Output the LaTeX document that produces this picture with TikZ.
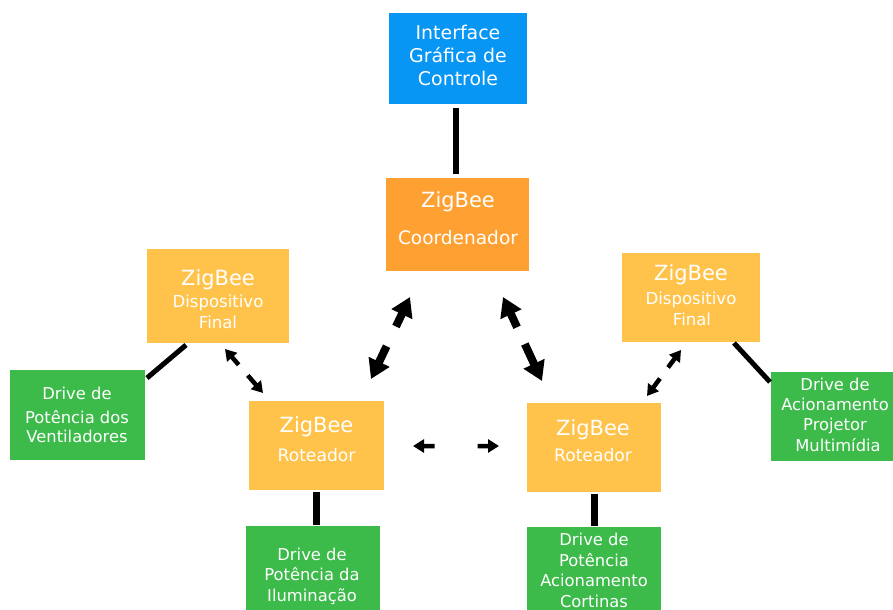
\documentclass[tikz,border=0pt]{standalone}
\usepackage{fontspec}
\setmainfont{DejaVu Sans}
\usetikzlibrary{calc,arrows.meta}
\definecolor{cblue}{RGB}{8,150,245}
\definecolor{corange}{RGB}{255,160,50}
\definecolor{cyellow}{RGB}{255,195,75}
\definecolor{cgreen}{RGB}{60,187,74}
\newcommand\fzig{\fontsize{21}{25}\selectfont}
\newcommand\fsub{\fontsize{17.2}{20}\selectfont}
\newcommand\fgreen{\fontsize{16.4}{20}\selectfont}
\begin{document}
\begin{tikzpicture}[x=1bp,y=-1bp,
  box/.style={inner sep=0pt, outer sep=0pt, draw=none},
  txt/.style={text=white, anchor=base, inner sep=0pt},
  conn/.style={line width=6bp, black},
  diag/.style={line width=5bp, black},
  fat/.style={line width=8bp, -{Triangle[length=19bp,width=22bp]}},
  thin/.style={line width=4.5bp, -{Triangle[length=11bp,width=13bp]}}]
\useasboundingbox (0,0) rectangle (893,610);
% boxes
\node[box, fill=cblue, minimum width=138bp, minimum height=91bp] (iface) at (458,58.5) {};
\node[box, fill=corange, minimum width=143bp, minimum height=93bp] (coord) at (457.5,224.5) {};
\node[box, fill=cyellow, minimum width=142bp, minimum height=94bp] (ldisp) at (218,296) {};
\node[box, fill=cyellow, minimum width=138bp, minimum height=89bp] (rdisp) at (691,297.5) {};
\node[box, fill=cyellow, minimum width=135bp, minimum height=89bp] (lrot) at (316.5,445.5) {};
\node[box, fill=cyellow, minimum width=134bp, minimum height=89bp] (rrot) at (594,447.5) {};
\node[box, fill=cgreen, minimum width=135bp, minimum height=90bp] (lgreen) at (77.5,415) {};
\node[box, fill=cgreen, minimum width=122bp, minimum height=89bp] (rgreen) at (832,416.5) {};
\node[box, fill=cgreen, minimum width=134bp, minimum height=84bp] (bgl) at (313,568) {};
\node[box, fill=cgreen, minimum width=134bp, minimum height=83bp] (bgr) at (594,568.5) {};
% texts
\node[txt, font=\fontsize{19}{23}\selectfont] (t1) at (458,40) {Interface};
\node[txt, font=\fontsize{19}{23}\selectfont] (t2) at (458,63) {Gráfica de};
\node[txt, font=\fontsize{19}{23}\selectfont] (t3) at (458,86) {Controle};
\node[txt, font=\fzig] (t4) at (458,208) {ZigBee};
\node[txt, font=\fontsize{18.6}{22}\selectfont] (t5) at (458,245) {Coordenador};
\node[txt, font=\fzig] (t6) at (218,285) {ZigBee};
\node[txt, font=\fontsize{16.6}{20}\selectfont] (t7) at (218,307.7) {Dispositivo};
\node[txt, font=\fontsize{16.6}{20}\selectfont] (t8) at (218,328) {Final};
\node[txt, font=\fzig] (t9) at (691,280.7) {ZigBee};
\node[txt, font=\fontsize{16.6}{20}\selectfont] (t10) at (691,304) {Dispositivo};
\node[txt, font=\fontsize{16.6}{20}\selectfont] (t11) at (692,325) {Final};
\node[txt, font=\fzig] (t12) at (316.5,432.7) {ZigBee};
\node[txt, font=\fsub] (t13) at (316.5,461.7) {Roteador};
\node[txt, font=\fzig] (t14) at (593,435) {ZigBee};
\node[txt, font=\fsub] (t15) at (593,461.7) {Roteador};
\node[txt, font=\fgreen] (t16) at (77,399) {Drive de};
\node[txt, font=\fgreen] (t17) at (77,423) {Potência dos};
\node[txt, font=\fgreen] (t18) at (77,442.7) {Ventiladores};
\node[txt, font=\fgreen] (t19) at (835,390) {Drive de};
\node[txt, font=\fgreen] (t20) at (835,410.7) {Acionamento};
\node[txt, font=\fgreen] (t21) at (835,430.7) {Projetor};
\node[txt, font=\fgreen] (t22) at (838,451.7) {Multimídia};
\node[txt, font=\fgreen] (t23) at (312,560) {Drive de};
\node[txt, font=\fgreen] (t24) at (312,580.5) {Potência da};
\node[txt, font=\fgreen] (t25) at (312,601) {Iluminação};
\node[txt, font=\fgreen] (t26) at (594,545) {Drive de};
\node[txt, font=\fgreen] (t27) at (594,566) {Potência};
\node[txt, font=\fgreen] (t28) at (594,586.7) {Acionamento};
\node[txt, font=\fgreen] (t29) at (594,607.7) {Cortinas};
% solid connectors
\draw[conn] (iface.south -| 456,0) ++(0,4) -- ($(coord.north -| 456,0)+(0,-4)$);
\draw[line width=7bp] ($(lrot.south)+(0,2)$) -- ($(bgl.north -| lrot.south)+(0,-1)$);
\draw[line width=7bp] ($(rrot.south)+(0,2)$) -- ($(bgr.north -| rrot.south)+(0,-1)$);
\coordinate (d1) at (186,345);
\coordinate (d2) at (147,378);
\coordinate (d3) at (734,343);
\coordinate (d4) at (770,382);
\draw[diag] (d1) -- (d2);
\draw[diag] (d3) -- (d4);
% double arrows with a gap
\coordinate (a1) at (410,297);
\coordinate (b1) at (371,379);
\draw[fat] ($(a1)!0.36!(b1)$) -- (a1);
\draw[fat] ($(a1)!0.6!(b1)$) -- (b1);
\coordinate (a2) at (503,297);
\coordinate (b2) at (542,381);
\draw[fat] ($(a2)!0.36!(b2)$) -- (a2);
\draw[fat] ($(a2)!0.56!(b2)$) -- (b2);
\coordinate (a3) at (225,349);
\coordinate (b3) at (263,393);
\draw[thin] ($(a3)!0.36!(b3)$) -- (a3);
\draw[thin] ($(a3)!0.6!(b3)$) -- (b3);
\coordinate (a4) at (681,350);
\coordinate (b4) at (647,396);
\draw[thin] ($(a4)!0.38!(b4)$) -- (a4);
\draw[thin] ($(a4)!0.62!(b4)$) -- (b4);
\coordinate (a5) at (413,446);
\coordinate (b5) at (499,446);
\draw[thin] ($(a5)!0.25!(b5)$) -- (a5);
\draw[thin] ($(a5)!0.75!(b5)$) -- (b5);
\end{tikzpicture}
\end{document}
